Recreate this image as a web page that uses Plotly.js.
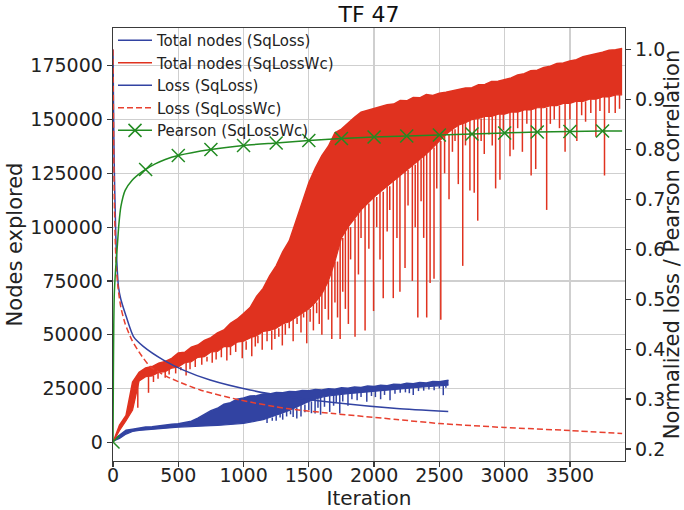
<!DOCTYPE html>
<html>
<head>
<meta charset="utf-8">
<script src="https://cdn.plot.ly/plotly-3.0.1.min.js"></script>
<style>html,body{margin:0;padding:0;background:#fff;}#chart{width:684px;height:510px;}</style>
</head>
<body>
<div id="chart"></div>
<script>
// ---------- DATA (node counts in thousands) ----------
const nodeStep = 50; // iteration spacing of the envelope samples

// Total nodes (SqLossWc): upper edge and lower edge of the dense core, every 50 iterations from 0 to 3900
const redHi = [0,8,12.5,28,32.5,34.5,35.2,36.8,37.6,39,41.5,41.8,44.2,45.2,47.3,48.6,50.8,52.2,55.3,57.2,
  59.8,62.6,67.8,71.5,77.4,82,88.5,93.6,102.5,111.4,120.6,127.4,133.2,137.6,143.8,145.6,148.4,151,153.4,154.2,
  155.3,156.1,156.9,157.2,158.8,158.7,160.2,160.1,161.6,161.2,162.2,162.7,163.3,163.8,164.7,164.8,166.2,166.3,167.7,167.8,
  168.7,169.3,170.7,171.3,172.7,172.9,174.2,174.8,176.1,176.3,177.2,177.8,179.2,179.8,180.7,181.3,182.2,182.4,183];
const redLo = [0,5.5,10,15,28.5,30.5,30.8,32.5,32.8,34.5,35,37,37.5,39.5,39.8,42,42.2,44.5,44.5,46.5,
  47,48.5,49.5,51.5,52,53,55,56,58,60,62,65,69,75,84,95,100,104,108,111,
  114,116.5,119,121.5,124,126.5,129,131.5,134,137,140,143,145.5,147.5,148.5,150,150.5,151.5,151.5,152.5,
  152.5,153.5,153.5,154.5,154.5,155.5,155.5,156.5,156.5,157.5,157.5,158.5,158.5,159.5,159.5,160.5,160.5,161.5,161.5];
// Downward spikes of Total nodes (SqLossWc) below the dense core: iteration, value
const redDipIter = [190,272,310,345,400,430,480,520,560,590,630,680,720,760,790,830,872,900,940,990,
  1020,1063,1090,1110,1143,1180,1216,1240,1270,1297,1320,1350,1380,1410,1440,1460,1484,1510,1535,1560,
  1580,1600,1625,1650,1676,1700,1720,1740,1760,1780,1803,1820,1854,1880,1900,1931,1960,1996,2020,2045,
  2070,2100,2120,2147,2175,2198,2237,2260,2293,2315,2335,2360,2380,2403,2429,2459,2480,2511,2540,2574,
  2600,2620,2645,2679,2700,2734,2767,2794,2820,2844,2880,2905,2931,2964,2990,3041,3067,3100,3136,3170,
  3203,3238,3280,3322,3350,3380,3420,3463,3500,3553,3590,3620,3660,3699,3730,3765,3800,3847,3880];
const redDipVal = [16,23,28,29.5,30,31.5,32,33.5,31,34,35,36,37.5,37,38.5,39.5,38,40.5,42,39,
  43,40,44.5,46,43,47,43,48,49,45,50,53,47,55,51,58,46,56,52,60,
  55,50,62,57,48,65,58,48,70,62,55,85,49,78,95,52,90,61,100,85,
  67,98,108,67,95,70,81,110,75,100,58,112,95,58,74,76,118,57,125,113,
  135,140,120,82,138,117,116,103,140,134,143,138,118,122,145,133,136,146,135,148,
  124,127,145,108,148,150,146,135,150,140,152,149,153,142,154,124,153,153,155];

// Total nodes (SqLoss): every 50 iterations from 0, last sample at 2570
const blueHi = [1,3.2,5.6,6.1,6.6,7.1,7.2,7.7,7.9,8.4,8.6,9.3,9.8,11.2,12.8,14.7,15.8,17.7,18.4,20,
  20.6,21.5,21.6,22.4,22.4,23.1,23,23.6,23.5,24.1,23.9,24.5,24.3,24.9,24.7,25.3,25.1,25.7,25.5,26.1,
  25.9,26.5,26.3,27,26.8,27.4,27.2,27.8,27.6,28.2,28.1,28.8,28.8];
const blueLo = [0.5,1.8,3.8,5,5.5,5.8,6,6.3,6.5,6.8,7,7.2,7.4,7.5,7.6,7.7,7.8,8,8.2,8.4,
  8.8,9.3,9.8,10.5,11.5,12.5,13.5,14.8,16.2,17.6,19,20,21,21.5,22,22.3,22.6,22.9,23.2,23.5,
  23.8,24.1,24.4,24.7,25,25.2,25.4,25.6,25.8,26,26.2,26.4,26.6];
const blueLastIter = 2570;
const blueDipIter = [1180,1220,1250,1280,1300,1330,1360,1380,1408,1440,1470,1500,1520,1548,1570,1590,1620,1660,1690,1710,
  1737,1760,1800,1830,1870,1900,1944,1980,2010,2050,2080,2122,2160,2200,2240,2270,2300,2340,2380,2420,
  2460,2500,2530,2550];
const blueDipVal = [9,10,10,11.5,10.5,12,13,11.8,11,12,14,15,13.5,13.4,16,12.8,16.5,14.1,17,18.5,
  13.4,19,17,20,19.5,21,18.8,21.5,21,20,22,19.5,22.5,23,23.2,22.8,22,23.8,24,24.5,
  24.2,25,21.9,25.3];

// Normalized loss (SqLoss)
const lossSqIter = [0,5,10,17,25,42,60,93,157,234,387,540,744,1050,1331,1688,2174,2568];
const lossSqVal  = [1.0,0.86,0.76,0.675,0.60,0.525,0.50,0.472,0.425,0.405,0.378,0.358,0.338,0.318,0.305,0.293,0.281,0.275];

// Normalized loss (SqLossWc)
const lossWcIter = [0,5,10,17,25,40,60,93,145,208,285,413,500,668,974,1331,1686,2174,2500,3000,3500,3900];
const lossWcVal  = [1.0,0.82,0.70,0.62,0.565,0.52,0.484,0.451,0.418,0.391,0.365,0.345,0.335,0.318,0.298,0.281,0.271,0.259,0.251,0.243,0.237,0.231];

// Pearson correlation (SqLossWc)
const pearsonIter = [0,3,6,10,20,30,45,60,93,145,221,250,323,400,500,750,1000,1250,1500,1750,2000,2250,2500,2750,3000,3250,3500,3750,3900];
const pearsonVal  = [0.214,0.35,0.45,0.51,0.56,0.595,0.65,0.685,0.718,0.738,0.755,0.760,0.771,0.780,0.788,0.800,0.808,0.813,0.818,0.822,0.825,0.827,0.829,0.831,0.833,0.835,0.836,0.837,0.837];
const pearsonMarkEvery = 250;

// ---------- BUILD ----------
const K = 1000;
const BLUE = '#3243a2', RED = '#e0321f', GREEN = '#228b22';
const redIter = redHi.map((_, i) => i * nodeStep);
const blueIter = blueHi.map((_, i) => Math.min(i * nodeStep, blueLastIter));

function spikes(dipIter, dipVal, edge, step) {
  const x = [], y = [];
  dipIter.forEach((it, j) => {
    const idx = Math.min(Math.round(it / step), edge.length - 1);
    x.push(it, it, null);
    y.push(edge[idx] * K, dipVal[j] * K, null);
  });
  return {x, y};
}
const redSp = spikes(redDipIter, redDipVal, redLo, nodeStep);
const blueSp = spikes(blueDipIter, blueDipVal, blueLo, nodeStep);

const traces = [
  {x: blueIter, y: blueLo.map(v => v*K), mode: 'lines', line: {color: BLUE, width: 1.2}, showlegend: false, hoverinfo: 'skip'},
  {x: blueIter, y: blueHi.map(v => v*K), mode: 'lines', fill: 'tonexty', fillcolor: BLUE, line: {color: BLUE, width: 1.5}, showlegend: false, hoverinfo: 'skip'},
  {x: blueSp.x, y: blueSp.y, mode: 'lines', line: {color: BLUE, width: 1.5}, showlegend: false, hoverinfo: 'skip'},
  {x: redIter, y: redLo.map(v => v*K), mode: 'lines', line: {color: RED, width: 1.2}, showlegend: false, hoverinfo: 'skip'},
  {x: redIter, y: redHi.map(v => v*K), mode: 'lines', fill: 'tonexty', fillcolor: RED, line: {color: RED, width: 1.5}, showlegend: false, hoverinfo: 'skip'},
  {x: redSp.x, y: redSp.y, mode: 'lines', line: {color: RED, width: 1.5}, showlegend: false, hoverinfo: 'skip'},
  // legend entries for node series
  {x: [null], y: [null], mode: 'lines', name: 'Total nodes (SqLoss)', line: {color: BLUE, width: 1.5}},
  {x: [null], y: [null], mode: 'lines', name: 'Total nodes (SqLossWc)', line: {color: RED, width: 1.5}},
  {x: lossSqIter, y: lossSqVal, yaxis: 'y2', mode: 'lines', name: 'Loss (SqLoss)', line: {color: BLUE, width: 1.5, shape: 'spline', smoothing: 0.6}},
  {x: lossWcIter, y: lossWcVal, yaxis: 'y2', mode: 'lines', name: 'Loss (SqLossWc)', line: {color: '#e8402f', width: 1.5, dash: '6px,3px', shape: 'spline', smoothing: 0.6}},
  {x: pearsonIter, y: pearsonVal, yaxis: 'y2', mode: 'lines', line: {color: GREEN, width: 1.5, shape: 'spline', smoothing: 0.6}, showlegend: false},
  {x: pearsonIter.filter(v => v % pearsonMarkEvery === 0), y: pearsonVal.filter((v, i) => pearsonIter[i] % pearsonMarkEvery === 0),
   yaxis: 'y2', mode: 'markers', marker: {symbol: 'x-thin-open', size: 13, line: {color: GREEN, width: 1.5}, color: GREEN}, showlegend: false},
  {x: [null], y: [null], yaxis: 'y2', mode: 'lines+markers', name: 'Pearson (SqLossWc)', line: {color: GREEN, width: 1.5},
   marker: {symbol: 'x-thin-open', size: 13, line: {color: GREEN, width: 1.5}, color: GREEN}}
];

const FONT = 'DejaVu Sans, sans-serif';
const layout = {
  width: 684, height: 510,
  margin: {l: 113, r: 59, t: 28, b: 49, pad: 0},
  paper_bgcolor: '#fff', plot_bgcolor: '#fff',
  font: {family: FONT, color: '#222', size: 19},
  title: {text: 'TF 47', font: {size: 22, family: FONT, color: '#111'}, x: 0.5, xref: 'paper', y: 0.972, yref: 'container', yanchor: 'middle'},
  xaxis: {
    range: [0, 3922], dtick: 500, tick0: 0, showgrid: true, gridcolor: '#cfcfcf', gridwidth: 1.2,
    zeroline: false, showline: true, linecolor: '#3a3a3a', linewidth: 1.3, mirror: true,
    ticks: 'outside', ticklen: 5, tickwidth: 1.2, tickcolor: '#3a3a3a', ticklabelstandoff: -8,
    tickfont: {size: 19, family: FONT, color: '#222'},
    title: {text: 'Iteration', font: {size: 20, family: FONT, color: '#222'}, standoff: 0}
  },
  yaxis: {
    range: [-8704, 192560], dtick: 25000, tick0: 0, tickformat: 'd', showgrid: true, gridcolor: '#cfcfcf', gridwidth: 1.2,
    zeroline: false, showline: true, linecolor: '#3a3a3a', linewidth: 1.3,
    ticks: 'outside', ticklen: 5, tickwidth: 1.2, tickcolor: '#3a3a3a',
    tickfont: {size: 19, family: FONT, color: '#222'},
    title: {text: 'Nodes explored', font: {size: 21, family: FONT, color: '#222'}, standoff: 2}
  },
  yaxis2: {
    overlaying: 'y', side: 'right', range: [0.1759, 1.0433], dtick: 0.1, tick0: 0.2, tickformat: '.1f',
    showgrid: false, zeroline: false, showline: true, linecolor: '#3a3a3a', linewidth: 1.3,
    ticks: 'outside', ticklen: 5, tickwidth: 1.2, tickcolor: '#3a3a3a',
    tickfont: {size: 19, family: FONT, color: '#222'},
    title: {text: 'Normalized loss / Pearson correlation', font: {size: 21, family: FONT, color: '#222'}, standoff: 6}
  },
  legend: {x: 0.0, y: 1.009, xanchor: 'left', yanchor: 'top', bgcolor: 'rgba(255,255,255,0)', borderwidth: 0,
    traceorder: 'normal', font: {size: 15, family: FONT, color: '#222'}, itemwidth: 34, tracegroupgap: 0},
  showlegend: true
};

Plotly.newPlot('chart', traces, layout, {displayModeBar: false, staticPlot: true});
</script>
</body>
</html>
